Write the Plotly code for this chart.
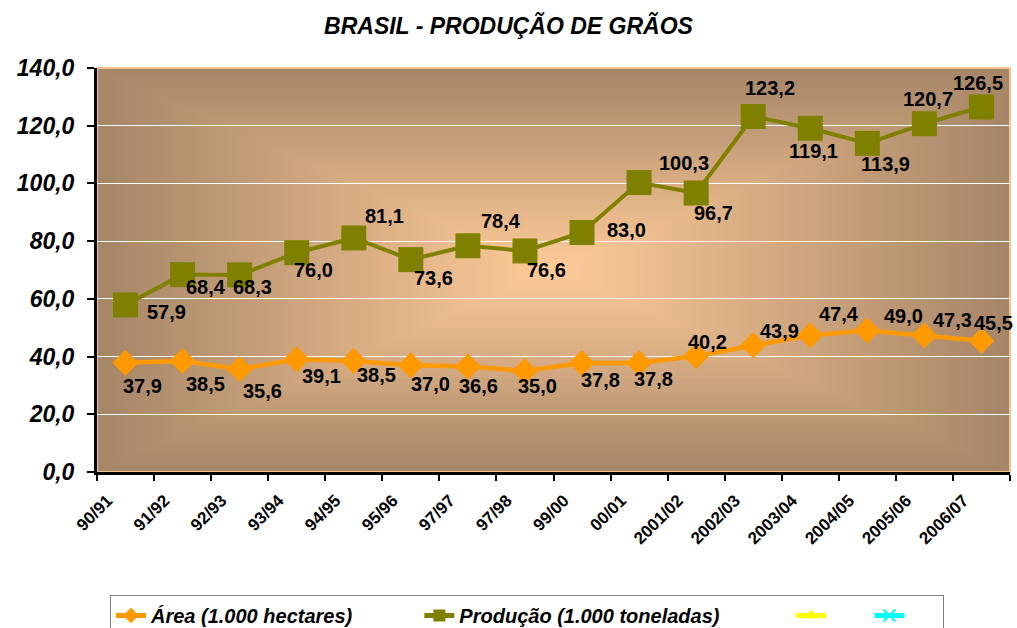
import base64
import struct
import zlib

import numpy as np
import plotly.graph_objects as go

# ---------------- data ----------------
categories = ["90/91", "91/92", "92/93", "93/94", "94/95", "95/96", "97/97", "97/98",
              "99/00", "00/01", "2001/02", "2002/03", "2003/04", "2004/05", "2005/06", "2006/07"]
area = [37.9, 38.5, 35.6, 39.1, 38.5, 37.0, 36.6, 35.0,
        37.8, 37.8, 40.2, 43.9, 47.4, 49.0, 47.3, 45.5]
producao = [57.9, 68.4, 68.3, 76.0, 81.1, 73.6, 78.4, 76.6,
            83.0, 100.3, 96.7, 123.2, 119.1, 113.9, 120.7, 126.5]
y_ticks = [0, 20, 40, 60, 80, 100, 120, 140]

title_text = "BRASIL - PRODUÇÃO DE GRÃOS"
name_area = "Área (1.000 hectares)"
name_prod = "Produção (1.000 toneladas)"

# label offsets in pixels (dx right, dy down) – style only
area_off = [(17, 23), (23, 23), (23, 22), (25, 17), (23, 14), (20, 19), (11, 20), (13, 15),
            (18, 17), (14, 16), (11, -14), (26, -14), (29, -21), (36, -15), (28, -16), (12, -18)]
prod_off = [(41, 7), (23, 12), (13, 12), (17, 17), (31, -22), (23, 18), (33, -25), (22, 19),
            (44, -2), (45, -20), (17, 20), (17, -28), (3, 23), (18, 21), (4, -25), (-3, -24)]

FONT = "Liberation Sans, Arial, sans-serif"
ORANGE = "#FF9900"
OLIVE = "#808000"
NB = "\u00a0"


# ---------------- background gradient image (style) ----------------
def gradient_png(w=300, h=150, c_center=(255, 204, 153), c_edge=(166, 134, 104)):
    yy, xx = np.mgrid[0:h, 0:w]
    dx = np.abs((xx + 0.5) / w - 0.5) * 2
    dy = np.abs((yy + 0.5) / h - 0.5) * 2
    t = np.maximum(dx, dy)
    cc = np.array(c_center, dtype=float)
    ce = np.array(c_edge, dtype=float)
    img = (cc[None, None, :] * (1 - t[..., None]) + ce[None, None, :] * t[..., None])
    img = np.clip(img, 0, 255).astype(np.uint8)
    raw = b"".join(b"\x00" + img[r].tobytes() for r in range(h))

    def chunk(tag, data):
        c = struct.pack(">I", len(data)) + tag + data
        return c + struct.pack(">I", zlib.crc32(tag + data) & 0xFFFFFFFF)

    png = b"\x89PNG\r\n\x1a\n"
    png += chunk(b"IHDR", struct.pack(">IIBBBBB", w, h, 8, 2, 0, 0, 0))
    png += chunk(b"IDAT", zlib.compress(raw, 9))
    png += chunk(b"IEND", b"")
    return "data:image/png;base64," + base64.b64encode(png).decode()


fig = go.Figure()

fig.add_trace(go.Scatter(
    x=categories, y=area, mode="lines+markers", name=name_area + NB * 11,
    line=dict(color=ORANGE, width=4.5),
    marker=dict(symbol="diamond", size=20, color=ORANGE),
))
fig.add_trace(go.Scatter(
    x=categories, y=producao, mode="lines+markers", name=name_prod + NB * 12,
    line=dict(color=OLIVE, width=4),
    marker=dict(symbol="square", size=25, color=OLIVE),
))
# empty series shown only in legend
fig.add_trace(go.Scatter(
    x=[None], y=[None], mode="lines+markers", name=NB * 6,
    line=dict(color="#FFFF00", width=2),
    marker=dict(symbol="triangle-up", size=10, color="#FFFF00"),
))
fig.add_trace(go.Scatter(
    x=[None], y=[None], mode="lines+markers", name=NB * 5,
    line=dict(color="#00FFFF", width=2),
    marker=dict(symbol="x-thin", size=10, line=dict(color="#00FFFF", width=2)),
))


def fmt(v):
    return f"{v:.1f}".replace(".", ",")


annotations = []
for series, offs in ((area, area_off), (producao, prod_off)):
    for c, v, (dx, dy) in zip(categories, series, offs):
        annotations.append(dict(
            x=c, y=v, xref="x", yref="y", text=fmt(v), showarrow=False,
            xshift=dx, yshift=-dy,
            font=dict(family=FONT, size=20, color="black", weight="bold"),
        ))

fig.update_layout(
    width=1017, height=628,
    margin=dict(l=97, r=7, t=68, b=156),
    paper_bgcolor="white",
    plot_bgcolor="#C8A07A",
    separators=",.",
    showlegend=True,
    title=dict(
        text=title_text, x=0.5, xref="container", xanchor="center",
        y=1 - 26 / 628, yref="container", yanchor="middle",
        font=dict(family=FONT, size=23, color="black", weight="bold", style="italic"),
    ),
    legend=dict(
        orientation="h", x=527 / 1017, xref="container", xanchor="center",
        y=1 - 595 / 628, yref="container", yanchor="top",
        bgcolor="white", bordercolor="#808080", borderwidth=1,
        font=dict(family=FONT, size=20, color="black", weight="bold", style="italic"),
        itemsizing="constant",
    ),
    annotations=annotations,
    images=[dict(
        source=gradient_png(), xref="paper", yref="paper", x=0, y=1,
        sizex=1, sizey=1, xanchor="left", yanchor="top",
        sizing="stretch", layer="below",
    )],
    shapes=[dict(
        type="rect", xref="paper", yref="paper", x0=0, y0=0, x1=1, y1=1,
        line=dict(color="#F5C48E", width=2), layer="below",
    )],
)

fig.update_xaxes(
    type="category", categoryorder="array", categoryarray=categories,
    range=[-0.5, len(categories) - 0.5],
    showgrid=False, showline=True, linecolor="black", linewidth=3,
    ticks="outside", tickson="boundaries", ticklen=6, tickwidth=2, tickcolor="black",
    tickangle=-45, ticklabelshift=-18, ticklabelstandoff=9,
    tickfont=dict(family=FONT, size=17, color="black", weight="bold"),
)
fig.update_yaxes(
    range=[0, 140], tickvals=y_ticks, tickformat=".1f",
    showgrid=True, gridcolor="white", gridwidth=1, zeroline=False,
    showline=True, linecolor="black", linewidth=3,
    ticks="outside", ticklen=7, tickwidth=2, tickcolor="black",
    ticklabelstandoff=8,
    tickfont=dict(family=FONT, size=23, color="black", weight="bold", style="italic"),
)

fig.write_html(
    "out.html",
    config={"displayModeBar": False},
    post_script="document.body.style.margin='0px';document.body.style.padding='0px';",
)
